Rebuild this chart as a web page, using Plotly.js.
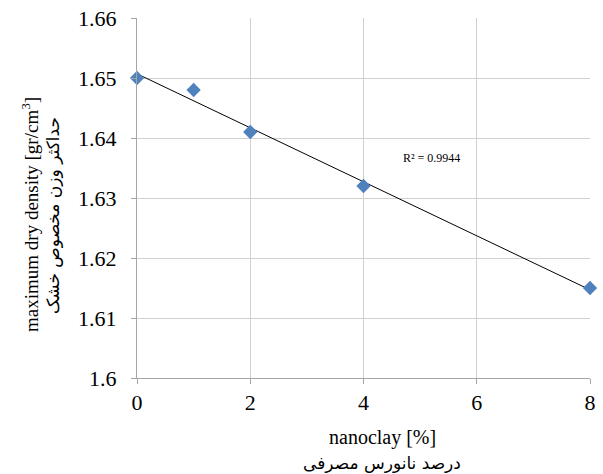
<!DOCTYPE html>
<html>
<head>
<meta charset="utf-8">
<script src="https://cdn.plot.ly/plotly-3.0.1.min.js"></script>
<style>html,body{margin:0;padding:0;background:#fff;}#chart{width:603px;height:474px;}</style>
</head>
<body>
<div id="chart"></div>
<script>
const nanoclay = [0, 1, 2, 4, 8];
const density = [1.650, 1.648, 1.641, 1.632, 1.615];
const yTickVals = [1.6, 1.61, 1.62, 1.63, 1.64, 1.65, 1.66];
const yTickText = ['1.6', '1.61', '1.62', '1.63', '1.64', '1.65', '1.66'];
const xTickVals = [0, 2, 4, 6, 8];
const r2Label = 'R² = 0.9944';
const xTitleEn = 'nanoclay [%]';
const xTitleFa = 'درصد نانورس مصرفی';
const yTitleEn = 'maximum dry density [gr/cm<sup>3</sup>]';
const yTitleFa = 'حداکثر وزن مخصوص خشک';

// linear least-squares trendline
const n = nanoclay.length;
const mx = nanoclay.reduce((a, b) => a + b, 0) / n;
const my = density.reduce((a, b) => a + b, 0) / n;
let sxy = 0, sxx = 0;
for (let i = 0; i < n; i++) { sxy += (nanoclay[i] - mx) * (density[i] - my); sxx += (nanoclay[i] - mx) ** 2; }
const slope = sxy / sxx, icpt = my - slope * mx;
const tx = [Math.min(...nanoclay), Math.max(...nanoclay)];
const ty = tx.map(x => icpt + slope * x);

const font = "'Liberation Serif', 'Times New Roman', serif";
const faFont = "'DejaVu Sans', 'Liberation Serif'";

Plotly.newPlot('chart', [
  {x: tx, y: ty, mode: 'lines', line: {color: '#000000', width: 1}, hoverinfo: 'skip', showlegend: false, cliponaxis: false},
  {x: nanoclay, y: density, mode: 'markers', marker: {symbol: 'diamond', size: 11, color: '#4f81bd'}, showlegend: false, cliponaxis: false}
], {
  width: 603, height: 474,
  margin: {l: 137, r: 13, t: 18, b: 96},
  paper_bgcolor: '#ffffff', plot_bgcolor: '#ffffff',
  font: {family: font, color: '#000000', size: 19},
  xaxis: {
    range: [0, 8], tickvals: xTickVals, ticktext: xTickVals.map(String),
    showgrid: true, gridcolor: '#d0d0d0', gridwidth: 1,
    showline: true, linecolor: '#a6a6a6', linewidth: 1,
    ticks: 'outside', ticklen: 5, tickcolor: '#a6a6a6',
    zeroline: false, tickfont: {size: 22, family: font, color: '#000000'}
  },
  yaxis: {
    range: [1.6, 1.66], tickvals: yTickVals, ticktext: yTickText,
    showgrid: true, gridcolor: '#d0d0d0', gridwidth: 1,
    showline: true, linecolor: '#a6a6a6', linewidth: 1,
    ticks: 'outside', ticklen: 5, tickcolor: '#a6a6a6',
    zeroline: false, tickfont: {size: 22, family: font, color: '#000000'},
    ticklabelstandoff: 10
  },
  annotations: [
    {x: 5.2, y: 1.6367, xref: 'x', yref: 'y', text: r2Label, showarrow: false, font: {size: 12, family: font, color: '#000000'}},
    {x: 0.5, y: 0, xref: 'paper', yref: 'paper', xanchor: 'center', yanchor: 'middle', xshift: 19, yshift: -59, text: xTitleEn, showarrow: false, font: {size: 20, family: font, color: '#000000'}},
    {x: 0.5, y: 0, xref: 'paper', yref: 'paper', xanchor: 'center', yanchor: 'middle', xshift: 18, yshift: -85, text: xTitleFa, showarrow: false, font: {size: 17, family: faFont, color: '#000000'}},
    {x: 0, y: 0.5, xref: 'paper', yref: 'paper', xanchor: 'center', yanchor: 'middle', xshift: -107, yshift: -17, textangle: -90, text: yTitleEn, showarrow: false, font: {size: 19, family: font, color: '#000000'}},
    {x: 0, y: 0.5, xref: 'paper', yref: 'paper', xanchor: 'center', yanchor: 'middle', xshift: -84, yshift: -18, textangle: -90, text: yTitleFa, showarrow: false, font: {size: 17, family: faFont, color: '#000000'}}
  ]
}, {staticPlot: true});
</script>
</body>
</html>
